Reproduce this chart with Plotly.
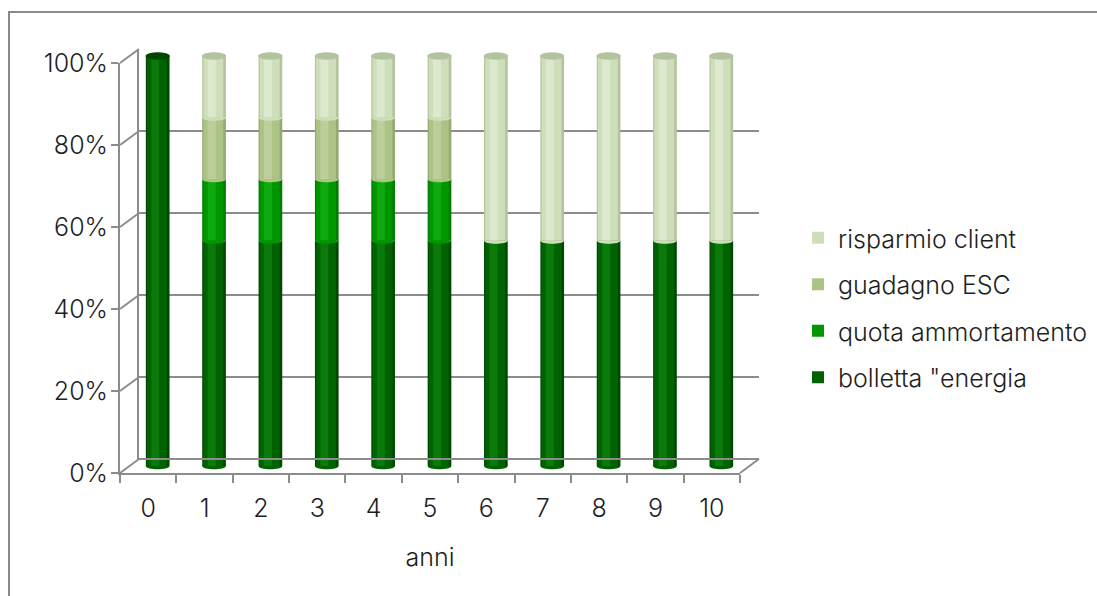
import plotly.graph_objects as go

# ---- data -------------------------------------------------------------
anni = ["0", "1", "2", "3", "4", "5", "6", "7", "8", "9", "10"]
bolletta_energia = [100, 55, 55, 55, 55, 55, 55, 55, 55, 55, 55]
quota_ammortamento = [0, 15, 15, 15, 15, 15, 0, 0, 0, 0, 0]
guadagno_esc = [0, 15, 15, 15, 15, 15, 0, 0, 0, 0, 0]
risparmio_client = [0, 15, 15, 15, 15, 15, 45, 45, 45, 45, 45]
y_ticks = [0, 20, 40, 60, 80, 100]

# series drawn bottom -> top: (name, values, (edge, body, highlight), legend rank)
serie = [
    ('bolletta "energia', bolletta_energia, ("#004800", "#006200", "#0a7a0a"), 4),
    ("quota ammortamento", quota_ammortamento, ("#007c00", "#009600", "#0faa0f"), 3),
    ("guadagno ESC", guadagno_esc, ("#93ab72", "#acc386", "#bccf9b"), 2),
    ("risparmio client", risparmio_client, ("#b3c39d", "#cfdeba", "#dde9cd"), 1),
]

# ---- pseudo-3D geometry (pixels) ---------------------------------------
W, H = 1097, 596
FX0, FX1 = 120, 740          # front plane x extent
FY0, FY100 = 473, 63         # front plane y for 0% and 100%
DX, DY = 19, -14             # depth offset of the back wall
PPU = (FY0 - FY100) / 100.0  # pixels per percent


def px(x):
    return x / W


def py(y):
    return 1 - y / H


GRID = "#8c8c8c"
TXT = "#1e1e1e"
FONT = "Inter"
FW = 300
FS = 25

fig = go.Figure()

# back wall (xy) -- only gridlines
fig.add_trace(go.Scatter(x=list(range(len(anni))), y=[0] * len(anni), xaxis="x", yaxis="y",
                         mode="markers", marker=dict(opacity=0), showlegend=False,
                         hoverinfo="skip"))
# front axes (x2y2)
fig.add_trace(go.Scatter(x=anni, y=[0] * len(anni), xaxis="x2", yaxis="y2",
                         mode="markers", marker=dict(opacity=0), showlegend=False,
                         hoverinfo="skip"))

# cylinders on the mid-depth plane (x3y3)
BW = 0.42
layers = [  # (colour index, width fraction, centre shift)
    (0, 1.00, 0.00),
    (1, 0.84, -0.03),
    (2, 0.34, -0.10),
]
idx = list(range(len(anni)))
bases = [0] * len(anni)
seg_bases = []
for name, vals, cols, rank in serie:
    seg_bases.append(list(bases))
    for li, (ci, wf, sh) in enumerate(layers):
        w = BW * wf
        fig.add_trace(go.Bar(
            x=idx, y=vals, base=list(bases), xaxis="x3", yaxis="y3",
            width=w, offset=-w / 2 + sh * BW,
            marker=dict(color=cols[ci], line=dict(width=0)),
            name=name, legendgroup=name, legendrank=rank,
            showlegend=(li == 1), hoverinfo="skip",
        ))
    bases = [b + v for b, v in zip(bases, vals)]

shapes = []

# rounded cylinder bottoms, segment joints and tops
HE = 3.2 / PPU   # half height of the ellipses, in percent units
K = 4.0 / 3.0
for i in idx:
    for (name, vals, cols, rank), sb in zip(serie, seg_bases):
        if vals[i] <= 0:
            continue
        x0, x1 = i - BW / 2, i + BW / 2
        y = sb[i]
        shapes.append(dict(
            type="path", xref="x3", yref="y3", layer="above",
            path=f"M {x0},{y} C {x0},{y - K * HE} {x1},{y - K * HE} {x1},{y} Z",
            fillcolor=cols[1], line=dict(width=0),
        ))
    top = bases[i]
    top_cols = [c for (n, v, c, r) in serie if v[i] > 0][-1]
    shapes.append(dict(
        type="circle", xref="x3", yref="y3", layer="above",
        x0=i - BW / 2, x1=i + BW / 2, y0=top - HE, y1=top + HE,
        fillcolor=top_cols[0], line=dict(color=top_cols[0], width=1),
    ))

# depth connectors from the front axis to the back wall
for v in y_ticks:
    yf = FY0 - v * PPU
    shapes.append(dict(type="line", xref="paper", yref="paper",
                       x0=px(FX0), y0=py(yf), x1=px(FX0 + DX), y1=py(yf + DY),
                       line=dict(color=GRID, width=2)))
shapes.append(dict(type="line", xref="paper", yref="paper",
                   x0=px(FX1), y0=py(FY0), x1=px(FX1 + DX), y1=py(FY0 + DY),
                   line=dict(color=GRID, width=2)))
shapes.append(dict(type="line", xref="paper", yref="paper",
                   x0=px(FX0 + DX), y0=py(FY0 + DY), x1=px(FX1 + DX), y1=py(FY0 + DY),
                   line=dict(color=GRID, width=2)))

# chart area border
shapes.append(dict(type="rect", xref="paper", yref="paper",
                   x0=px(9), y0=py(12), x1=px(W + 20), y1=py(H + 20),
                   line=dict(color="#8a8a8a", width=2), fillcolor="rgba(0,0,0,0)"))

MID_LO, MID_HI = -3, 103
mid_y0 = FY0 + DY / 2
mid_bottom = mid_y0 - MID_LO * PPU
mid_top = mid_y0 - MID_HI * PPU

tfont = dict(family=FONT, size=FS, color=TXT, weight=FW)

fig.update_layout(
    width=W, height=H, autosize=False,
    margin=dict(l=0, r=0, t=0, b=0, pad=0, autoexpand=False),
    paper_bgcolor="white", plot_bgcolor="rgba(0,0,0,0)",
    barmode="overlay",
    font=tfont,
    showlegend=True,
    legend=dict(
        x=px(798), y=py(215), xanchor="left", yanchor="top",
        font=tfont, tracegroupgap=11, bgcolor="rgba(0,0,0,0)",
    ),
    xaxis=dict(domain=[px(FX0 + DX), px(FX1 + DX)], range=[-0.5, 10.5],
               visible=False, fixedrange=True, anchor="y", automargin=False),
    yaxis=dict(domain=[py(FY0 + DY), py(FY100 + DY)], range=[0, 100],
               showgrid=True, gridcolor=GRID, gridwidth=2, tickvals=y_ticks,
               showticklabels=False, ticks="", zeroline=False,
               showline=True, linecolor=GRID, linewidth=2,
               fixedrange=True, anchor="x", automargin=False),
    xaxis2=dict(domain=[px(FX0), px(FX1)], type="category",
                categoryorder="array", categoryarray=anni, range=[-0.5, 10.5],
                tickson="boundaries", ticks="outside", ticklen=8, tickwidth=2,
                tickcolor=GRID, showline=True, linecolor=GRID, linewidth=2,
                showgrid=False, zeroline=False, ticklabelstandoff=12,
                tickfont=tfont,
                title=dict(text="anni", standoff=26, font=tfont),
                fixedrange=True, anchor="y2", automargin=False),
    yaxis2=dict(domain=[py(FY0), py(FY100)], range=[0, 100],
                tickvals=y_ticks, ticktext=[f"{v}%" for v in y_ticks],
                ticks="outside", ticklen=7, tickwidth=2, tickcolor=GRID,
                showline=True, linecolor=GRID, linewidth=2,
                showgrid=False, zeroline=False, ticklabelstandoff=-2,
                tickfont=tfont,
                fixedrange=True, anchor="x2", automargin=False),
    xaxis3=dict(domain=[px(FX0 + DX / 2), px(FX1 + DX / 2)], range=[-0.5, 10.5],
                visible=False, fixedrange=True, anchor="y3", automargin=False),
    yaxis3=dict(domain=[py(mid_bottom), py(mid_top)], range=[MID_LO, MID_HI],
                visible=False, fixedrange=True, anchor="x3", automargin=False),
    shapes=shapes,
)

fig.write_html("out.html")
